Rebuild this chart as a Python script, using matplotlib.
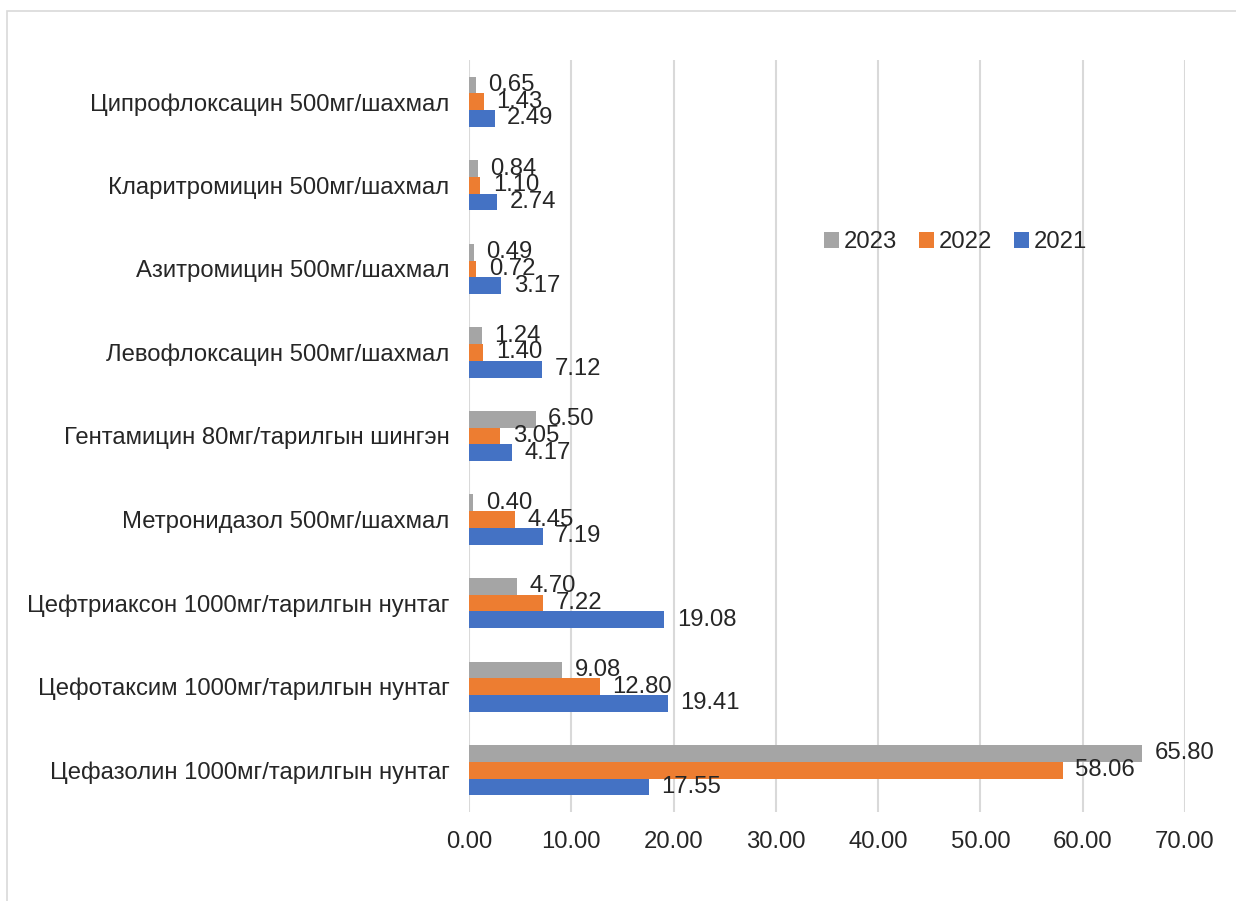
import matplotlib
matplotlib.use('Agg')
import matplotlib.pyplot as plt
from matplotlib.patches import Rectangle
import numpy as np

plt.rcParams['font.family'] = ['Liberation Sans', 'DejaVu Sans']

# data (bottom to top)
categories = [
	"Цефазолин 1000мг/тарилгын нунтаг",
	"Цефотаксим 1000мг/тарилгын нунтаг",
	"Цефтриаксон 1000мг/тарилгын нунтаг",
	"Метронидазол 500мг/шахмал",
	"Гентамицин 80мг/тарилгын шингэн",
	"Левофлоксацин 500мг/шахмал",
	"Азитромицин 500мг/шахмал",
	"Кларитромицин 500мг/шахмал",
	"Ципрофлоксацин 500мг/шахмал",
]
v2021 = [17.55, 19.41, 19.08, 7.19, 4.17, 7.12, 3.17, 2.74, 2.49]
v2022 = [58.06, 12.80, 7.22, 4.45, 3.05, 1.40, 0.72, 1.10, 1.43]
v2023 = [65.80, 9.08, 4.70, 0.40, 6.50, 1.24, 0.49, 0.84, 0.65]
xticks = [0, 10, 20, 30, 40, 50, 60, 70]

FS = 17.2

fig = plt.figure(figsize=(12.36, 9.01), dpi=100)
ax = fig.add_axes([0.3795, 0.0988, 0.5792, 0.8346])

y = np.arange(len(categories))
h = 0.2
series = [
	("2021", v2021, -h, '#4472C4'),
	("2022", v2022, 0.0, '#ED7D31'),
	("2023", v2023, h, '#A5A5A5'),
]
handles = {}
for name, vals, off, col in series:
	bars = ax.barh(y + off, vals, height=h, color=col, label=name, zorder=3)
	handles[name] = bars
	for yy, v in zip(y + off, vals):
		ax.annotate("%.2f" % v, (v, yy), xytext=(9, 0), textcoords='offset points',
			va='center', ha='left', fontsize=FS, color='#262626', zorder=4)

ax.set_xlim(0, 70)
ax.set_ylim(-0.5, len(categories) - 0.5)
ax.set_xticks(xticks)
ax.set_xticklabels(["%.2f" % t for t in xticks], fontsize=FS, color='#262626')
ax.set_yticks(y)
ax.set_yticklabels(categories, fontsize=FS, color='#262626')
ax.tick_params(axis='both', length=0)
ax.tick_params(axis='x', pad=14)
ax.tick_params(axis='y', pad=14)
ax.grid(axis='x', color='#d9d9d9', linewidth=1.5, zorder=0)
for s in ax.spines.values():
	s.set_visible(False)

leg = ax.legend([handles["2023"], handles["2022"], handles["2021"]], ["2023", "2022", "2021"],
	loc='center', bbox_to_anchor=(0.773, 0.731), bbox_transform=fig.transFigure,
	ncol=3, frameon=False, fontsize=FS, handlelength=0.65, handleheight=0.65,
	handletextpad=0.2, columnspacing=0.9)
for t in leg.get_texts():
	t.set_color('#262626')

# outer chart border
fig.patches.append(Rectangle((7 / 1236, -0.01), 1.0, 1 - 11 / 901 + 0.01, transform=fig.transFigure,
	fill=False, edgecolor='#d9d9d9', linewidth=1.2))

fig.savefig("out.png", dpi=100)
